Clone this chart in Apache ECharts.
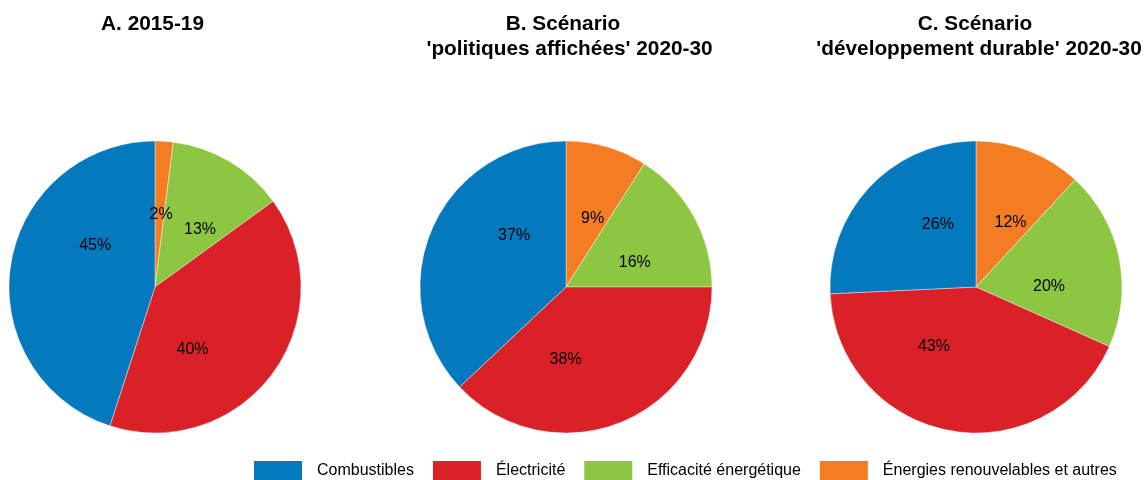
<!DOCTYPE html>
<html>
<head>
<meta charset="utf-8">
<script src="https://cdn.jsdelivr.net/npm/echarts@6/dist/echarts.min.js"></script>
<style>
  html, body { margin: 0; padding: 0; background: #fff; }
  #chart { width: 1145px; height: 480px; }
</style>
</head>
<body>
<div id="chart"></div>
<script>
// Categories in legend order
const categories = ['Combustibles', 'Électricité', 'Efficacité énergétique', 'Énergies renouvelables et autres'];
const colors = {
  'Combustibles': '#0579be',
  'Électricité': '#da2128',
  'Efficacité énergétique': '#8dc641',
  'Énergies renouvelables et autres': '#f47c22'
};

// Panel title lines
const panelTitleLines = [
  ['A. 2015-19'],
  ['B. Scénario', "'politiques affichées' 2020-30"],
  ['C. Scénario', "'développement durable' 2020-30"]
];

// Shares (%) per panel, in legend order: Combustibles, Électricité, Efficacité, Énergies renouvelables
const shares2015_19 = [45, 40, 13, 2];
const sharesPolitiques = [37, 38, 16, 9];
const sharesDurable = [26, 43, 20, 12];
const panelShares = [shares2015_19, sharesPolitiques, sharesDurable];

// Slices drawn clockwise from 12 o'clock: renewables, efficiency, electricity, fuels
const sliceOrder = [3, 2, 1, 0];

// Layout
const centersX = [155, 566, 976];
const centerY = 287;
const radius = 146;
const titleLineCenters = [[152.5], [563, 569.5], [975, 979]];
const titleTop = 12;
const titleLineStep = 25;
// Value labels sit at half radius, two thirds of the way through each slice
const labelSweep = 0.66;

const chart = echarts.init(document.getElementById('chart'), null, { renderer: 'canvas' });

const titles = [];
panelTitleLines.forEach((lines, i) => {
  lines.forEach((line, j) => {
    titles.push({
      text: line,
      left: titleLineCenters[i][j],
      top: titleTop + j * titleLineStep,
      textAlign: 'center',
      padding: 0,
      textStyle: {
        fontFamily: 'Liberation Sans, Arial, sans-serif',
        fontWeight: 'bold',
        fontSize: 20.8,
        lineHeight: 25,
        color: '#000'
      }
    });
  });
});

function labelPosition(seriesIndex, dataIndex) {
  const vals = sliceOrder.map(k => panelShares[seriesIndex][k]);
  const total = vals.reduce((a, b) => a + b, 0);
  let start = 0;
  for (let d = 0; d < dataIndex; d++) start += vals[d];
  const frac = (start + labelSweep * vals[dataIndex]) / total;
  const theta = frac * 2 * Math.PI;
  return {
    x: centersX[seriesIndex] + 0.5 * radius * Math.sin(theta),
    y: centerY - 0.5 * radius * Math.cos(theta),
    align: 'center',
    verticalAlign: 'middle'
  };
}

const series = panelShares.map((vals, i) => ({
  type: 'pie',
  center: [centersX[i], centerY],
  radius: [0, radius],
  startAngle: 90,
  clockwise: true,
  silent: true,
  animation: false,
  label: {
    show: true,
    position: 'inside',
    formatter: p => p.value + '%',
    fontFamily: 'Liberation Sans, Arial, sans-serif',
    fontSize: 16,
    color: '#000'
  },
  labelLine: { show: false },
  labelLayout: params => labelPosition(i, params.dataIndex),
  itemStyle: { borderColor: '#fff', borderWidth: 0.4 },
  data: sliceOrder.map(k => ({
    name: categories[k],
    value: vals[k],
    itemStyle: { color: colors[categories[k]] }
  }))
}));

chart.setOption({
  backgroundColor: '#fff',
  title: titles,
  legend: {
    data: categories,
    left: 252,
    top: 459,
    padding: 0,
    icon: 'rect',
    itemWidth: 50,
    itemHeight: 21,
    itemGap: 17,
    selectedMode: false,
    textStyle: {
      fontFamily: 'Liberation Sans, Arial, sans-serif',
      fontSize: 16,
      color: '#000',
      padding: [0, 0, 0, 9]
    }
  },
  series: series
});
</script>
</body>
</html>
